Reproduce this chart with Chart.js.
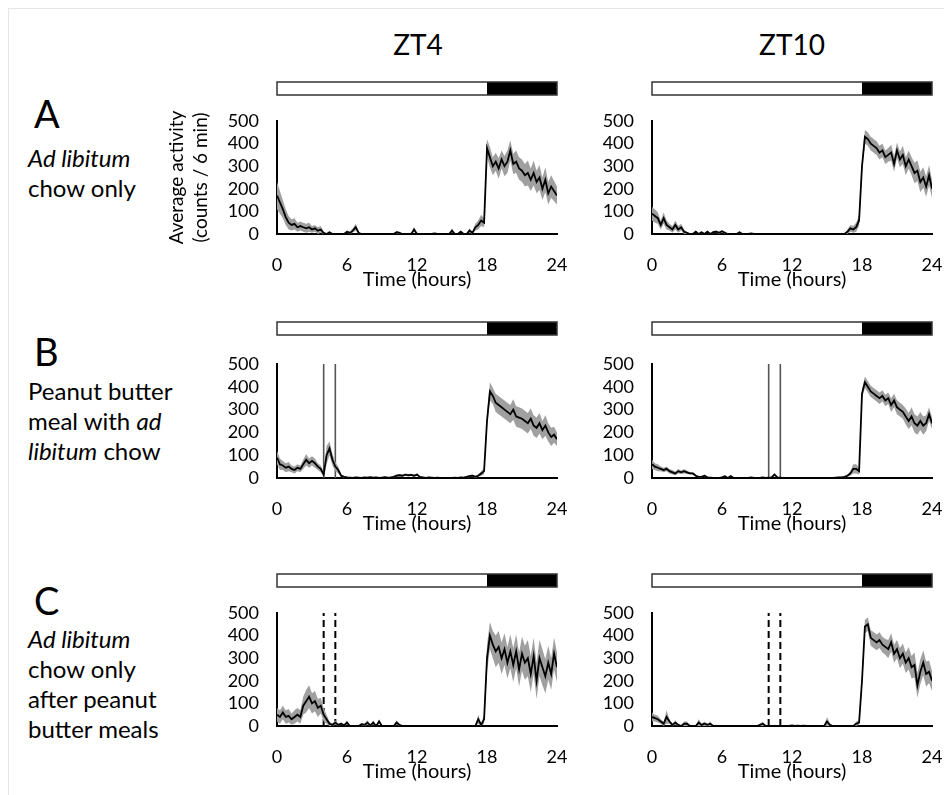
<!DOCTYPE html>
<html>
<head>
<meta charset="utf-8">
<script src="https://cdn.jsdelivr.net/npm/chart.js@4.4.1/dist/chart.umd.min.js"></script>
<style>
  html, body { margin: 0; padding: 0; background: #fff; overflow: hidden; }
  #fig { position: relative; width: 944px; height: 795px; overflow: hidden; font-family: Lato, sans-serif; color: #000; }
  #frame { position: absolute; left: 8px; top: 8px; width: 960px; height: 800px; border-left: 1px solid #e6e6e6; border-top: 1px solid #e6e6e6; }
  canvas { position: absolute; }
  .col-title { position: absolute; width: 200px; text-align: center; font-size: 28px; line-height: 30px; }
  .letter { position: absolute; left: 34px; font-size: 38px; line-height: 40px; }
  .desc { position: absolute; left: 28px; font-size: 24px; line-height: 30px; white-space: nowrap; }
</style>
</head>
<body>
<div id="fig">
  <div id="frame"></div>

  <div class="col-title" style="left:318px;top:29px">ZT4</div>
  <div class="col-title" style="left:692px;top:29px">ZT10</div>

  <div class="letter" style="top:93px">A</div>
  <div class="desc" style="top:143px"><i>Ad libitum</i><br>chow only</div>

  <div class="letter" style="top:331px">B</div>
  <div class="desc" style="top:376px">Peanut butter<br>meal with <i>ad</i><br><i>libitum</i> chow</div>

  <div class="letter" style="top:580px">C</div>
  <div class="desc" style="top:624px"><i>Ad libitum</i><br>chow only<br>after peanut<br>butter meals</div>

  <canvas id="a4"></canvas>
  <canvas id="a10"></canvas>
  <canvas id="b4"></canvas>
  <canvas id="b10"></canvas>
  <canvas id="c4"></canvas>
  <canvas id="c10"></canvas>
</div>

<script>
// ----- data (hours after meal slot start, 15-min reads of the 6-min trace) -----
const hours = [
  0,0.25,0.5,0.75,1,1.25,1.5,1.75,2,2.25,2.5,2.75,3,3.25,3.5,3.75,4,4.25,4.5,4.75,5,5.25,5.5,5.75,
  6,6.25,6.5,6.75,7,7.25,7.5,7.75,8,8.25,8.5,8.75,9,9.25,9.5,9.75,10,10.25,10.5,10.75,11,11.25,11.5,11.75,
  12,12.25,12.5,12.75,13,13.25,13.5,13.75,14,14.25,14.5,14.75,15,15.25,15.5,15.75,16,16.25,16.5,16.75,17,17.25,17.5,17.75,
  18,18.25,18.5,18.75,19,19.25,19.5,19.75,20,20.25,20.5,20.75,21,21.25,21.5,21.75,22,22.25,22.5,22.75,23,23.25,23.5,23.75,24
];
const xTicks = [0, 6, 12, 18, 24];
const yTicks = [0, 100, 200, 300, 400, 500];
const lightPhase = [0, 18];
const darkPhase = [18, 24];
const mealTimesZT4 = [4, 5];
const mealTimesZT10 = [10, 11];

// A: ad libitum chow only
const meanA4 = [
  170,140,110,75,50,40,45,30,35,30,25,30,20,25,15,20,5,0,8,0,0,0,0,0,
  10,5,15,30,5,0,0,0,0,0,0,0,0,0,0,0,0,8,5,0,0,0,0,20,
  0,0,0,0,0,0,3,0,0,0,0,0,15,0,0,10,0,0,15,5,30,40,60,50,
  380,340,300,320,290,330,300,320,370,310,320,290,280,260,270,240,270,230,250,200,240,180,210,190,170
];
const semA4 = [
  60,50,40,35,30,25,25,20,20,20,20,20,15,15,15,15,5,0,5,0,0,0,0,0,
  5,5,10,15,5,0,0,0,0,0,0,0,0,0,0,0,0,5,5,0,0,0,0,10,
  0,0,0,0,0,0,3,0,0,0,0,0,10,0,0,5,0,0,10,5,15,20,25,20,
  40,45,40,40,45,40,45,50,45,45,50,50,50,50,55,50,55,50,55,50,55,50,50,45,40
];
const meanA10 = [
  90,80,70,40,70,40,30,20,40,20,30,10,5,0,0,10,0,8,0,10,0,8,10,5,
  12,5,0,0,0,0,8,0,0,0,3,0,0,0,0,0,0,0,0,0,0,0,0,0,
  0,0,0,0,0,0,0,0,0,0,0,0,0,0,0,0,0,0,0,10,25,20,30,60,
  300,430,420,400,390,380,360,370,340,350,360,310,370,330,350,300,330,300,270,280,230,250,210,260,200
];
const semA10 = [
  30,30,25,20,25,20,15,15,20,15,15,10,5,0,0,5,0,5,0,5,0,5,5,5,
  5,5,0,0,0,0,5,0,0,0,2,0,0,0,0,0,0,0,0,0,0,0,0,0,
  0,0,0,0,0,0,0,0,0,0,0,0,0,0,0,0,0,0,0,10,15,15,20,25,
  30,30,30,30,30,30,30,30,30,30,35,35,35,35,40,40,40,40,45,45,45,45,45,45,40
];

// B: peanut butter meal with ad libitum chow
const meanB4 = [
  90,60,55,45,50,40,35,45,40,60,80,65,75,65,50,40,15,100,130,80,50,35,10,5,
  3,2,0,3,2,0,3,2,4,2,3,0,2,4,2,3,5,10,12,10,15,12,14,10,
  15,5,3,0,3,2,0,2,0,0,0,0,0,2,0,3,2,5,8,10,5,10,20,30,
  250,380,360,330,320,310,300,290,280,300,270,265,260,250,240,260,230,220,240,210,230,200,180,190,170
];
const semB4 = [
  30,25,20,20,20,15,15,15,15,20,25,20,20,20,15,15,10,40,30,25,20,15,5,5,
  2,2,0,2,2,0,2,2,2,2,2,0,2,2,2,2,3,5,5,5,5,5,5,5,
  5,3,2,0,2,2,0,2,0,0,0,0,0,2,0,2,2,3,5,5,5,5,10,15,
  30,40,35,40,40,40,40,40,40,45,45,45,45,45,45,45,45,45,45,40,45,40,40,35,30
];
const meanB10 = [
  60,50,45,40,35,40,30,25,20,30,25,30,25,20,20,10,5,5,10,3,2,0,0,0,
  3,8,0,8,0,0,0,0,0,0,3,0,0,0,3,0,2,3,15,3,2,0,0,0,
  0,0,0,0,0,0,0,0,0,0,0,0,0,0,0,2,3,3,5,10,20,40,40,30,
  370,420,400,380,370,360,350,360,340,350,320,340,310,300,290,270,250,270,240,230,250,230,240,280,240
];
const semB10 = [
  20,15,15,10,10,10,10,10,8,10,8,10,8,5,5,5,3,3,5,2,2,0,0,0,
  2,3,0,3,0,0,0,0,0,0,2,0,0,0,2,0,1,2,5,2,1,0,0,0,
  0,0,0,0,0,0,0,0,0,0,0,0,0,0,0,1,2,2,3,5,10,20,20,15,
  20,25,25,25,25,25,25,25,25,25,30,30,30,30,30,35,35,40,40,40,40,40,35,30,25
];

// C: ad libitum chow only after peanut butter meals
const meanC4 = [
  50,40,60,40,45,30,40,50,40,90,110,130,100,110,80,90,50,30,10,5,15,5,10,3,
  15,0,0,0,0,8,5,15,3,15,0,20,0,0,0,0,0,15,5,0,0,0,0,0,
  0,0,0,0,0,0,0,0,0,0,0,0,0,0,0,0,0,0,0,0,0,30,5,30,
  300,400,360,330,350,300,340,280,330,270,330,250,320,280,300,230,310,200,300,260,220,280,230,320,260
];
const semC4 = [
  30,30,30,30,30,25,30,30,30,40,50,50,45,45,40,35,30,20,10,5,10,5,5,2,
  10,0,0,0,0,5,5,10,3,10,0,10,0,0,0,0,0,10,5,0,0,0,0,0,
  0,0,0,0,0,0,0,0,0,0,0,0,0,0,0,0,0,0,0,0,0,20,5,20,
  60,60,60,70,70,70,70,70,75,75,75,75,75,75,80,80,80,80,80,80,75,75,70,70,65
];
const meanC10 = [
  40,35,30,20,10,40,20,5,15,5,0,10,10,0,0,0,15,5,10,5,10,0,0,0,
  0,0,0,0,0,0,0,0,0,0,0,0,0,5,10,0,0,0,0,0,0,0,0,0,
  3,0,2,0,2,0,0,0,0,0,0,0,20,5,0,0,0,0,0,0,0,0,10,15,
  200,440,450,390,380,370,380,360,350,340,370,320,340,300,320,280,300,260,270,180,240,280,230,240,200
];
const semC10 = [
  20,15,15,10,10,30,10,5,10,5,0,10,10,0,0,0,15,5,10,5,10,0,0,0,
  0,0,0,0,0,0,0,0,0,0,0,0,0,5,10,0,0,0,0,0,0,0,0,0,
  2,0,1,0,1,0,0,0,0,0,0,0,20,5,0,0,0,0,0,0,0,0,10,10,
  30,30,30,35,35,35,35,35,35,40,40,40,40,45,45,45,50,50,55,55,55,55,55,50,45
];

// ----- layout of the six panels (pixel positions only) -----
const panels = [
  { id: 'a4',  mean: meanA4,  sem: semA4,  axisX: 277, barTop: 82,  y500: 121, y0: 234, meals: [],            dashed: false, yTitle: true },
  { id: 'a10', mean: meanA10, sem: semA10, axisX: 652, barTop: 82,  y500: 121, y0: 234, meals: [],            dashed: false },
  { id: 'b4',  mean: meanB4,  sem: semB4,  axisX: 277, barTop: 322, y500: 364, y0: 478, meals: mealTimesZT4,  dashed: false },
  { id: 'b10', mean: meanB10, sem: semB10, axisX: 652, barTop: 322, y500: 364, y0: 478, meals: mealTimesZT10, dashed: false },
  { id: 'c4',  mean: meanC4,  sem: semC4,  axisX: 277, barTop: 574, y500: 613, y0: 726, meals: mealTimesZT4,  dashed: true },
  { id: 'c10', mean: meanC10, sem: semC10, axisX: 652, barTop: 574, y500: 613, y0: 726, meals: mealTimesZT10, dashed: true }
];

const FONT = 'Lato';
const Y_W = 117, X_H = 62, PAD_R = 24, BAR_H = 13;

// light / dark bar above each plot
const dayNightBar = {
  id: 'dayNightBar',
  afterDraw(chart, args, opts) {
    const { ctx } = chart, x = chart.scales.x;
    const l0 = x.getPixelForValue(lightPhase[0]);
    const l1 = x.getPixelForValue(lightPhase[1]);
    const d1 = x.getPixelForValue(darkPhase[1]);
    ctx.save();
    ctx.fillStyle = '#fff';
    ctx.fillRect(l0, opts.top, l1 - l0, BAR_H);
    ctx.fillStyle = '#000';
    ctx.fillRect(l1, opts.top, d1 - l1, BAR_H);
    ctx.strokeStyle = '#333';
    ctx.lineWidth = 1.5;
    ctx.strokeRect(l0, opts.top, d1 - l0, BAR_H);
    ctx.restore();
  }
};

// vertical lines marking the peanut butter meal window
const mealLines = {
  id: 'mealLines',
  beforeDatasetsDraw(chart, args, opts) {
    if (!opts.times || !opts.times.length) return;
    const { ctx } = chart, x = chart.scales.x, y = chart.scales.y;
    ctx.save();
    ctx.strokeStyle = opts.dashed ? '#000' : '#555';
    ctx.lineWidth = opts.dashed ? 2 : 1.6;
    ctx.setLineDash(opts.dashed ? [7, 4] : []);
    opts.times.forEach(t => {
      const px = x.getPixelForValue(t);
      ctx.beginPath();
      ctx.moveTo(px, y.getPixelForValue(yTicks[0]));
      ctx.lineTo(px, y.getPixelForValue(yTicks[yTicks.length - 1]));
      ctx.stroke();
    });
    ctx.restore();
  }
};

Chart.register(dayNightBar, mealLines);

function makeChart(p) {
  const canvas = document.getElementById(p.id);
  const top = p.barTop - 4;
  canvas.width = Y_W + 280 + PAD_R;
  canvas.height = (p.y0 - top) + X_H;
  canvas.style.left = (p.axisX - Y_W) + 'px';
  canvas.style.top = top + 'px';

  const pts = arr => hours.map((h, i) => ({ x: h, y: arr[i] }));
  const upper = p.mean.map((m, i) => m + p.sem[i]);
  const lower = p.mean.map((m, i) => Math.max(0, m - p.sem[i]));
  const tickFont = { family: FONT, size: 18 };

  return new Chart(canvas, {
    type: 'line',
    data: {
      datasets: [
        { data: pts(p.mean), borderColor: '#000', borderWidth: 1.8, pointRadius: 0, tension: 0, fill: false, order: 0 },
        { data: pts(upper), borderWidth: 0, borderColor: 'rgba(0,0,0,0)', backgroundColor: '#a0a0a0', pointRadius: 0, fill: '+1', order: 1 },
        { data: pts(lower), borderWidth: 0, borderColor: 'rgba(0,0,0,0)', pointRadius: 0, fill: false, order: 2 }
      ]
    },
    options: {
      responsive: false,
      animation: false,
      devicePixelRatio: 1,
      layout: { padding: { top: p.y500 - top, right: PAD_R, left: 0, bottom: 0 }, autoPadding: false },
      plugins: {
        legend: { display: false },
        tooltip: { enabled: false },
        dayNightBar: { top: 4 },
        mealLines: { times: p.meals, dashed: p.dashed }
      },
      scales: {
        x: {
          type: 'linear', min: xTicks[0], max: xTicks[xTicks.length - 1],
          afterBuildTicks: s => { s.ticks = xTicks.map(v => ({ value: v })); },
          ticks: { padding: 20, maxRotation: 0, autoSkip: false, color: '#000', font: tickFont },
          grid: { display: false, drawTicks: false },
          border: { display: true, color: '#000', width: 2 },
          title: { display: true, text: 'Time (hours)', color: '#000', font: { family: FONT, size: 20 }, padding: { top: 0, bottom: 4 } },
          afterFit: s => { s.height = X_H; s.paddingLeft = 0; s.paddingRight = 0; }
        },
        y: {
          min: yTicks[0], max: yTicks[yTicks.length - 1],
          afterBuildTicks: s => { s.ticks = yTicks.map(v => ({ value: v })); },
          ticks: { padding: 18, autoSkip: false, color: '#000', font: tickFont },
          grid: { display: false, drawTicks: false },
          border: { display: true, color: '#000', width: 2 },
          title: p.yTitle
            ? { display: true, text: ['Average activity', '(counts / 6 min)'], color: '#000',
                font: { family: FONT, size: 19, lineHeight: 1.25 }, padding: { top: 5, bottom: 0 } }
            : { display: false },
          afterFit: s => { s.width = Y_W; s.paddingTop = 0; s.paddingBottom = 0; }
        }
      }
    }
  });
}

panels.forEach(makeChart);
</script>
</body>
</html>
